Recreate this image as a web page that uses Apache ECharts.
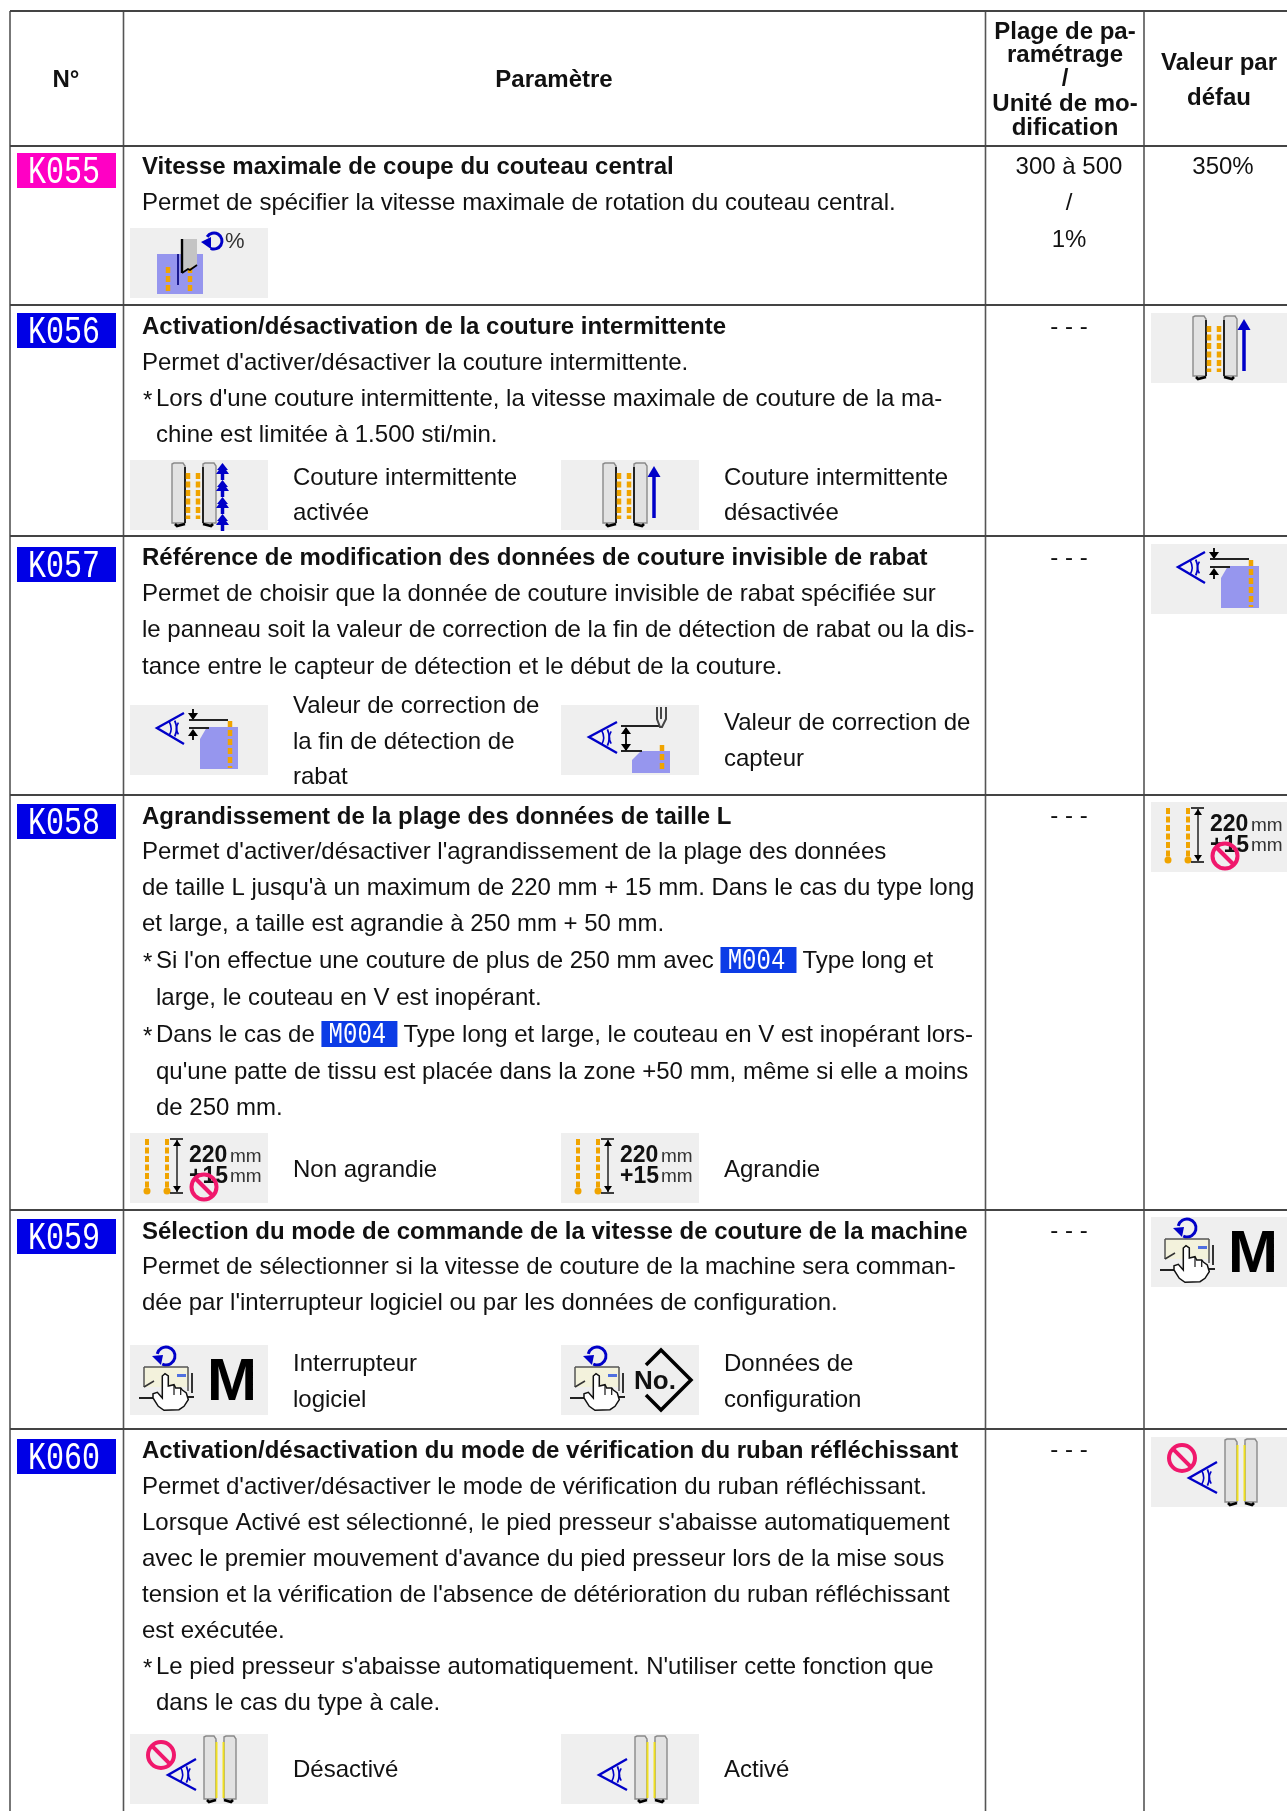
<!DOCTYPE html>
<html>
<head>
<meta charset="utf-8">
<style>
	html,body{margin:0;padding:0;background:#fff;}
	#main{width:1287px;height:1811px;}
</style>
<script src="https://cdn.jsdelivr.net/npm/echarts@6/dist/echarts.min.js"></script>
</head>
<body>
<div id="main"></div>
<script>
// table content
const rowCodes = ['K055','K056','K057','K058','K059','K060'];
const rowTitles = [
	'Vitesse maximale de coupe du couteau central',
	'Activation/désactivation de la couture intermittente',
	'Référence de modification des données de couture invisible de rabat',
	'Agrandissement de la plage des données de taille L',
	'Sélection du mode de commande de la vitesse de couture de la machine',
	'Activation/désactivation du mode de vérification du ruban réfléchissant'
];
// "* " starts a note, "> " continues it, [M004] is the blue key chip
const rowBodies = [
	['Permet de spécifier la vitesse maximale de rotation du couteau central.'],
	['Permet d\'activer/désactiver la couture intermittente.',
	 '* Lors d\'une couture intermittente, la vitesse maximale de couture de la ma-',
	 '> chine est limitée à 1.500 sti/min.'],
	['Permet de choisir que la donnée de couture invisible de rabat spécifiée sur',
	 'le panneau soit la valeur de correction de la fin de détection de rabat ou la dis-',
	 'tance entre le capteur de détection et le début de la couture.'],
	['Permet d\'activer/désactiver l\'agrandissement de la plage des données',
	 'de taille L jusqu\'à un maximum de 220 mm + 15 mm. Dans le cas du type long',
	 'et large, a taille est agrandie à 250 mm + 50 mm.',
	 '* Si l\'on effectue une couture de plus de 250 mm avec [M004]Type long et',
	 '> large, le couteau en V est inopérant.',
	 '* Dans le cas de [M004]Type long et large, le couteau en V est inopérant lors-',
	 '> qu\'une patte de tissu est placée dans la zone +50 mm, même si elle a moins',
	 '> de 250 mm.'],
	['Permet de sélectionner si la vitesse de couture de la machine sera comman-',
	 'dée par l\'interrupteur logiciel ou par les données de configuration.'],
	['Permet d\'activer/désactiver le mode de vérification du ruban réfléchissant.',
	 'Lorsque Activé est sélectionné, le pied presseur s\'abaisse automatiquement',
	 'avec le premier mouvement d\'avance du pied presseur lors de la mise sous',
	 'tension et la vérification de l\'absence de détérioration du ruban réfléchissant',
	 'est exécutée.',
	 '* Le pied presseur s\'abaisse automatiquement. N\'utiliser cette fonction que',
	 '> dans le cas du type à cale.']
];
const headerNo = 'N°';
const headerParam = 'Paramètre';
const headerRange = ['Plage de pa-','ramétrage','/','Unité de mo-','dification'];
const headerDefault = ['Valeur par','défau'];
const settingRanges = [['300 à 500','/','1%'],['- - -'],['- - -'],['- - -'],['- - -'],['- - -']];
const defaultText = ['350%',null,null,null,null,null];
const defaultIcons = [null,'seamOff','eyeEnd','size220No','handM','railsNo'];
const leftIcons = ['knife','seamOn','eyeEnd','size220No','handM','railsNo'];
const rightIcons = [null,'seamOff','eyeSensor','size220','handNo','rails'];
const leftLabels = [[],['Couture intermittente','activée'],['Valeur de correction de','la fin de détection de','rabat'],['Non agrandie'],['Interrupteur','logiciel'],['Désactivé']];
const rightLabels = [[],['Couture intermittente','désactivée'],['Valeur de correction de','capteur'],['Agrandie'],['Données de','configuration'],['Activé']];

// layout
const colLines = [10,123.5,985.5,1144];
const rowLines = [11,146,305,536,795,1210,1429];
const titleY = [167,327,558,817,1232,1451];
const bodyY = [
	[203],
	[363,399,435],
	[594,630,667],
	[852,888,924,961,998,1035,1072,1108],
	[1267,1303],
	[1487,1523,1559,1595,1631,1667,1703]
];
const leftLabelY = [[],[478,513],[706,742,777],[1170],[1364,1400],[1770]];
const rightLabelY = [[],[478,513],[723,759],[1170],[1364,1400],[1770]];
const rangeY = [[167,203,240],[327],[558],[816],[1231],[1450]];
const chipY = [153,313,547,804,1219,1439];
const iconY = [228,460,705,1133,1345,1734];
const defaultIconY = [null,313,544,802,1217,1437];
const FONT = '"Liberation Sans"';
const BODY_SIZE = 24;
const INK = '#111';
const BLUE = '#0000c8';
const ORANGE = '#f0a400';
const PATCH = '#9696ee';
const NO_RED = '#f0186c';

const measure = document.createElement('canvas').getContext('2d');

function line(x1,y1,x2,y2,stroke,w,dash){
	return {type:'line',shape:{x1:x1,y1:y1,x2:x2,y2:y2},style:{stroke:stroke,lineWidth:w||1,lineDash:dash||null,fill:'none'}};
}
function rect(x,y,w,h,fill){
	return {type:'rect',shape:{x:x,y:y,width:w,height:h},style:{fill:fill}};
}
function poly(points,fill,stroke,w){
	return {type:'polygon',shape:{points:points},style:{fill:fill,stroke:stroke||'none',lineWidth:w||1}};
}
function path(points,stroke,w){
	return {type:'polyline',shape:{points:points},style:{stroke:stroke,lineWidth:w||1,fill:'none'}};
}
function arc(cx,cy,r,a,b,stroke,w){
	return {type:'arc',shape:{cx:cx,cy:cy,r:r,startAngle:a,endAngle:b},style:{stroke:stroke,lineWidth:w||1,fill:'none'}};
}
function txt(x,y,s,size,weight,align,fill,family){
	return {type:'text',x:x,y:y,style:{text:s,fontFamily:family||FONT,fontSize:size,fontWeight:weight||'normal',
		textAlign:align||'left',textVerticalAlign:'middle',fill:fill||INK}};
}

// little panel pictograms, local coordinates inside the 139x70 grey tile
function noSign(cx,cy,r){
	let d = r*0.7;
	return [
		{type:'circle',shape:{cx:cx,cy:cy,r:r},style:{fill:'none',stroke:NO_RED,lineWidth:4}},
		line(cx-d,cy-d,cx+d,cy+d,NO_RED,4)
	];
}
function eye(ax,ay,ex,ey1,ey2){
	let mid = (ey1+ey2)/2, len = ex-ax;
	return [
		path([[ex,ey1],[ax,ay],[ex,ey2]],BLUE,2.4),
		arc(ax,mid,len*0.52,-0.5,0.5,BLUE,1.6),
		arc(ax,mid,len*0.72,-0.42,0.42,BLUE,1.8),
		arc(ax+len*1.15,mid,len*0.42,Math.PI-0.55,Math.PI+0.55,BLUE,1.6)
	];
}
function rail(x1,x2,y1,y2,innerRight,inner,innerWidth){
	let ix = innerRight ? x2 : x1;
	let hook = innerRight ? [[x1+3,y2-2],[x1+5,y2],[x2,y2-2]] : [[x2-3,y2-2],[x2-5,y2],[x1,y2-2]];
	return [
		poly([[x1,y1+1],[x1+2,y1],[x2-2,y1],[x2,y1+3],[x2,y2-3],[x1,y2-3]],'#e2e2e2','#8a8a8a',1.4),
		line(ix,y1+4,ix,y2-3,inner,innerWidth),
		path(hook,'#000',2.6)
	];
}
function seamPair(){
	return [].concat(
		rail(42,55,3,66,true,'#222',2),
		rail(73,86,3,66,false,'#222',2),
		[line(58,13,58,59,ORANGE,4.5,[6,2.5]),line(68,13,68,59,ORANGE,4.5,[6,2.5])]
	);
}
function blueArrow(x,y1,y2){
	return [line(x,y1+8,x,y2,BLUE,3.5),poly([[x,y1],[x+6.5,y1+11],[x-6.5,y1+11]],BLUE)];
}
function sizeIcon(crossed){
	let out = [
		line(17,6,17,56,ORANGE,4,[6,2.5]),line(37,6,37,56,ORANGE,4,[6,2.5]),
		{type:'circle',shape:{cx:17,cy:58,r:3.5},style:{fill:ORANGE}},
		{type:'circle',shape:{cx:37,cy:58,r:3.5},style:{fill:ORANGE}},
		line(47,7,47,59,'#222',1.5),line(40,6,53,6,'#000',1.5),line(40,60,53,60,'#000',1.5),
		poly([[47,7],[43,13],[51,13]],'#000'),poly([[47,59],[43,53],[51,53]],'#000'),
		txt(59,23,'220',23,'bold'),txt(100,24,'mm',19,'normal','left','#333'),
		txt(59,44,'+15',23,'bold'),txt(100,44,'mm',19,'normal','left','#333')
	];
	return crossed ? out.concat(noSign(74,54,12.5)) : out;
}
function handIcon(){
	return [
		arc(36,11,9,-2.9,2.0,BLUE,3),
		poly([[22,11],[33,10],[31,20]],BLUE),
		rect(14,22,44,20,'#f3f2dc'),
		line(14,22,58,22,'#555',1.5),line(14,22,14,42,'#555',1.5),line(58,22,58,46,'#555',1.5),
		rect(47,29,9,3,'#5070e0'),
		line(62,28,62,48,'#333',2),
		line(14,42,24,36,'#333',1.5),
		line(9,53,24,53,'#222',2),line(55,52,64,52,'#222',2),
		poly([[32.3,46],[32.3,31],[35,28.7],[38.3,31],[38.3,41],[44,39.7],[45.7,43],[50.7,43],[52.3,45],[56.3,48],[58.3,54.7],[54,61.3],[49,64.7],[34,65.3],[28.3,61.3],[23,53],[23,48.7],[27.3,47.3],[32.3,53]],'#fff','#111',1.5),
		line(44,40,44,50,'#111',1.2),line(50.7,43,50.7,50,'#111',1.2)
	];
}
const iconDraw = {
	knife:function(){
		return [
			rect(27,26,46,40,PATCH),
			line(38,39,38,65,ORANGE,4.5,[6,3]),line(60,39,60,65,ORANGE,4.5,[6,3]),
			line(48,26,48,57,'#1a1a90',2),
			poly([[52,11],[67,11],[67,37],[52,44]],'#c4c4c4'),
			line(52,11,52,45,'#000',2.4),
			path([[52,45],[58,41],[60,42],[67,37]],'#000',1.8),
			arc(84,13,8,-2.6,2.0,BLUE,3),
			poly([[71,14],[81,9],[81,21]],BLUE),
			txt(95,14,'%',22,'normal','left','#333')
		];
	},
	seamOn:function(){
		let out = seamPair();
		[3,20,37,54].forEach(function(y){
			out.push(poly([[92.5,y],[98,y+7],[87,y+7]],BLUE),poly([[92.5,y+2],[99,y+11],[86,y+11]],BLUE),line(92.5,y+8,92.5,y+17,BLUE,3.5));
		});
		return out;
	},
	seamOff:function(){
		return seamPair().concat(blueArrow(93,6,58));
	},
	eyeEnd:function(){
		return [].concat(
			[poly([[70,64],[70,34],[77,22],[108,22],[108,64]],PATCH),
			 line(100,16,100,63,ORANGE,4.5,[6,3])],
			eye(27,23,54,8,39),
			[line(63,4,63,14,'#000',1.8),poly([[63,15],[58,8],[68,8]],'#000'),
			 line(59,15,98,15,'#222',2),line(59,23,79,23,'#222',2),
			 poly([[63,24],[58,31],[68,31]],'#000'),line(63,30,63,35,'#000',1.8)]
		);
	},
	eyeSensor:function(){
		return [].concat(
			[poly([[71,68],[71,55],[80,46],[109,46],[109,68]],PATCH),
			 line(101,40,101,66,ORANGE,4.5,[6,3])],
			eye(28,32,56,17,48),
			[line(60,21,98,21,'#222',2),line(60,46,81,46,'#222',2),
			 line(65,23,65,45,'#000',1.8),poly([[65,22],[60,29],[70,29]],'#000'),poly([[65,46],[60,39],[70,39]],'#000'),
			 path([[96,2],[96,14],[99,22],[101,22],[105,14],[105,2]],'#444',2),line(100,2,100,14,'#444',2)]
		);
	},
	size220:function(){return sizeIcon(false);},
	size220No:function(){return sizeIcon(true);},
	handM:function(){
		return handIcon().concat([txt(102,38,'M',60,'bold','center','#000')]);
	},
	handNo:function(){
		return handIcon().concat([
			path([[85,20],[100,5],[130,35],[100,65],[85,50]],'#000',3.5),
			txt(73,37,'No.',26,'bold')
		]);
	},
	rails:function(){
		return railPair();
	},
	railsNo:function(){
		return railPair().concat(noSign(31,21,13));
	}
};
function railPair(){
	return [].concat(
		eye(38,41,66,25,56),
		rail(74,86,2,68,true,'#999',1),
		rail(94,106,2,68,false,'#999',1),
		[line(86.5,8,86.5,64,'#f0e020',2),line(93.5,8,93.5,64,'#f0e020',2)]
	);
}

// x and y are plain page axes, the table is placed through them
function cellsForRow(params,api){
	let r = params.dataIndex;
	let P = function(x,y){return api.coord([x,y]);};
	let kids = [];
	let put = function(x,y,s,size,weight,align){
		let p = P(x,y);
		kids.push(txt(p[0],p[1],s,size||BODY_SIZE,weight,align));
	};
	// row key chip
	let c = P(17,chipY[r]);
	kids.push({type:'rect',shape:{x:c[0],y:c[1],width:99,height:35},style:{fill:r==0?'#ff00c4':'#0000e6'}});
	kids.push({type:'text',x:c[0]+47,y:c[1]+20,scaleY:1.3,style:{text:rowCodes[r],fontFamily:'"Liberation Mono"',fontSize:30,
		textAlign:'center',textVerticalAlign:'middle',fill:'#fff'}});
	put(142,titleY[r],rowTitles[r],BODY_SIZE,'bold');
	rowBodies[r].forEach(function(s,i){
		let y = bodyY[r][i], x = 142;
		if(s.indexOf('* ')==0){
			put(143,y+2,'*');
			s = s.slice(2);
			x = 156;
		}else if(s.indexOf('> ')==0){
			s = s.slice(2);
			x = 156;
		}
		let parts = s.split('[M004]');
		put(x,y,parts[0]);
		if(parts.length>1){
			measure.font = BODY_SIZE+'px '+FONT;
			let chipX = x+measure.measureText(parts[0]).width;
			let q = P(chipX,y-14);
			kids.push({type:'rect',shape:{x:q[0],y:q[1],width:76,height:26},style:{fill:'#0c3ce6'}});
			kids.push({type:'text',x:q[0]+36,y:q[1]+14,scaleY:1.25,style:{text:'M004',fontFamily:'"Liberation Mono"',fontSize:24,
				textAlign:'center',textVerticalAlign:'middle',fill:'#fff'}});
			put(chipX+82,y,parts[1]);
		}
	});
	settingRanges[r].forEach(function(s,i){
		put(1069,rangeY[r][i],s,BODY_SIZE,'normal','center');
	});
	if(defaultText[r]) put(1223,titleY[r],defaultText[r],BODY_SIZE,'normal','center');
	let tile = function(name,x,y){
		let p = P(x,y);
		kids.push({type:'group',x:p[0],y:p[1],children:[rect(0,0,138,70,'#efefef')].concat(iconDraw[name]())});
	};
	if(leftIcons[r]) tile(leftIcons[r],130,iconY[r]);
	if(rightIcons[r]) tile(rightIcons[r],561,iconY[r]);
	if(defaultIcons[r]) tile(defaultIcons[r],1151,defaultIconY[r]);
	leftLabels[r].forEach(function(s,i){put(293,leftLabelY[r][i],s);});
	rightLabels[r].forEach(function(s,i){put(724,rightLabelY[r][i],s);});
	return {type:'group',children:kids};
}
function headerAndRules(params,api){
	let P = function(x,y){return api.coord([x,y]);};
	let kids = [];
	colLines.forEach(function(x){
		let a = P(x,rowLines[0]), b = P(x,1811);
		kids.push(line(a[0],a[1],b[0],b[1],'#555',1.6));
	});
	rowLines.forEach(function(y){
		let a = P(colLines[0],y), b = P(1287,y);
		kids.push(line(a[0],a[1],b[0],b[1],'#444',1.8));
	});
	let put = function(x,y,s){
		let p = P(x,y);
		kids.push(txt(p[0],p[1],s,BODY_SIZE,'bold','center'));
	};
	put(66,80,headerNo);
	put(554,80,headerParam);
	[32,55,79,104,128].forEach(function(y,i){put(1065,y,headerRange[i]);});
	[63,98].forEach(function(y,i){put(1219,y,headerDefault[i]);});
	return {type:'group',children:kids};
}

let chart = echarts.init(document.getElementById('main'),null,{renderer:'canvas'});
chart.setOption({
	animation:false,
	backgroundColor:'#fff',
	grid:{left:0,right:0,top:0,bottom:0},
	xAxis:{type:'value',min:0,max:1287,show:false},
	yAxis:{type:'value',min:0,max:1811,inverse:true,show:false},
	series:[
		{type:'custom',name:'rules',coordinateSystem:'cartesian2d',clip:false,silent:true,data:[[0,0]],renderItem:headerAndRules},
		{type:'custom',name:'rows',coordinateSystem:'cartesian2d',clip:false,silent:true,data:rowCodes.map(function(c,i){return [0,i];}),renderItem:cellsForRow}
	]
});
</script>
</body>
</html>
